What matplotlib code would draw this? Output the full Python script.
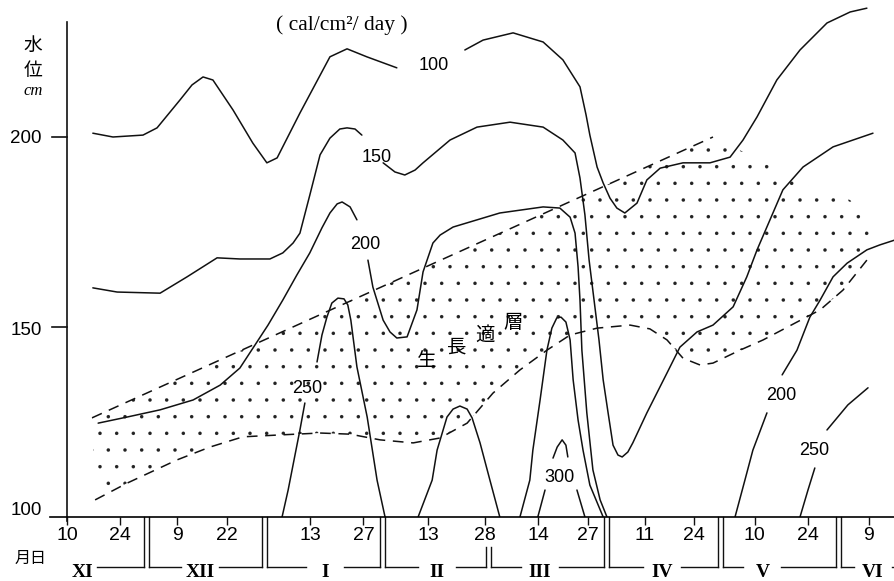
import matplotlib.pyplot as plt
from matplotlib.patches import Polygon

plt.rcParams['font.family'] = ['Liberation Sans', 'Noto Sans CJK JP']
plt.rcParams['hatch.linewidth'] = 0.1

# x = days after 10 Nov, y = water level (cm)
# contour 100 cal/cm2/day
c100a_x = [6.8, 12.1, 20.0, 23.7, 29.7, 32.9, 35.8, 38.4, 43.7, 48.9, 52.6, 55.3, 61.3, 69.2, 73.7, 78.9, 86.8]
c100a_y = [201.0, 200.0, 200.5, 202.4, 209.7, 213.7, 215.8, 215.0, 207.1, 198.4, 193.2, 194.5, 206.3, 221.1, 223.2, 221.1, 218.2]
c100b_x = [104.7, 109.5, 117.4, 125.3, 130.5, 135.0, 136.6, 137.6, 139.5, 141.1, 142.9, 144.7, 146.8, 150.0, 152.6,
           156.1, 162.1, 169.2, 174.5, 177.9, 181.6, 186.8, 192.9, 200.0, 206.1, 210.5]
c100b_y = [222.9, 225.5, 227.4, 225.0, 220.3, 213.2, 205.8, 200.5, 192.1, 187.9, 183.9, 181.3, 180.0, 182.6, 188.7,
           191.8, 193.2, 193.2, 194.7, 199.2, 205.3, 215.0, 222.9, 230.0, 232.9, 233.9]

# contour 150
c150a_x = [6.8, 13.2, 24.5, 31.6, 39.5, 45.5, 53.4, 56.8, 59.5, 61.3, 63.9, 66.6, 69.2, 71.8, 73.7, 75.8, 77.6]
c150a_y = [160.3, 159.2, 158.9, 163.2, 168.2, 167.9, 167.9, 169.5, 172.1, 174.7, 184.7, 195.3, 199.7, 202.1, 202.4, 202.1, 200.5]
c150b_x = [83.2, 86.3, 88.9, 91.6, 93.7, 100.8, 107.9, 116.6, 125.3, 130.5, 133.7, 135.0, 136.3, 137.4, 138.7, 140.0,
           141.1, 142.4, 143.7, 145.0, 146.1, 147.6, 148.9, 152.6, 157.9, 161.3, 165.8, 170.0, 175.3, 178.9, 181.6,
           188.4, 193.7, 201.6, 212.1]
c150b_y = [193.2, 190.8, 190.0, 191.3, 193.2, 199.2, 202.6, 203.9, 202.6, 199.2, 195.8, 189.2, 179.5, 167.6, 157.1, 146.6,
           136.1, 127.4, 118.9, 116.3, 115.8, 117.1, 119.5, 127.4, 137.9, 144.7, 148.7, 150.5, 155.3, 163.2, 170.3,
           186.1, 192.1, 197.4, 201.0]

# contour 200
c200a_x = [8.2, 15.8, 24.5, 33.2, 40.3, 45.5, 49.5, 52.9, 56.8, 60.5, 63.9, 67.1, 69.2, 71.1, 72.4, 74.5, 76.3]
c200a_y = [124.7, 126.3, 128.2, 130.8, 134.7, 139.2, 145.3, 150.5, 157.1, 163.7, 169.5, 176.1, 180.0, 182.4, 182.9, 181.6, 178.2]
c200b_x = [79.2, 80.5, 83.2, 85.0, 86.8, 89.5, 92.1, 93.7, 96.3, 98.2, 101.6, 113.9, 125.3, 129.7, 132.4, 133.7, 134.5,
           135.0, 135.5, 136.8, 138.4, 140.3, 142.1]
c200b_y = [167.6, 160.5, 151.8, 148.7, 147.1, 147.4, 154.5, 164.5, 172.1, 174.2, 176.3, 180.0, 181.6, 181.3, 178.9, 174.7,
           165.8, 157.1, 143.9, 127.4, 112.4, 104.5, 100.0]
c200c_x = [175.8, 178.4, 180.5, 184.2]
c200c_y = [100.0, 109.7, 117.6, 127.4]
c200d_x = [188.2, 192.1, 195.5, 198.2, 201.6, 205.3, 210.5, 213.9, 217.9]
c200d_y = [137.4, 143.9, 152.6, 157.1, 163.2, 166.8, 170.3, 171.6, 172.9]

# contour 250
c250a_x = [56.6, 58.2, 60.0, 61.3, 62.6]
c250a_y = [100.0, 107.1, 116.3, 122.9, 130.0]
c250b_x = [65.8, 67.1, 68.4, 69.7, 71.3, 72.9, 73.9, 74.7, 76.3, 79.0, 81.6, 83.7]
c250b_y = [140.8, 147.9, 152.6, 156.3, 157.6, 157.4, 155.8, 151.8, 139.5, 126.3, 109.7, 100.0]
c250c_x = [92.4, 96.1, 97.4, 100.0, 101.6, 103.4, 105.3, 106.6, 108.7, 111.3, 113.9]
c250c_y = [100.0, 109.7, 117.6, 126.3, 128.4, 129.2, 128.4, 126.1, 119.5, 109.7, 100.0]
c250d_x = [119.2, 121.8, 122.6, 124.5, 126.3, 127.6, 128.9, 130.0, 131.3, 132.4, 133.2, 134.5, 135.8, 137.6, 141.1]
c250d_y = [100.0, 109.7, 117.6, 130.8, 143.9, 149.7, 152.4, 152.6, 151.3, 146.6, 136.1, 125.5, 117.6, 108.4, 100.0]
c250e_x = [192.9, 195.0, 196.8]
c250e_y = [100.0, 107.1, 112.9]
c250f_x = [200.0, 205.5, 210.8]
c250f_y = [122.9, 129.5, 134.0]

# contour 300
c300a_x = [127.9, 129.0, 130.3, 131.3, 131.8]
c300a_y = [115.5, 118.4, 120.3, 118.9, 115.8]
c300b_x = [123.9, 125.8]
c300b_y = [100.0, 107.1]
c300c_x = [134.2, 136.3]
c300c_y = [107.1, 100.0]

# growth layer limits
upper_x = [6.6, 170.0]
upper_y = [126.1, 200.0]
lower_x = [7.4, 15.8, 28.9, 37.6, 46.3, 56.1, 66.6, 74.5, 82.4, 91.1, 98.2, 105.3, 112.1, 119.2, 126.3, 132.4,
           139.5, 148.2, 153.4, 157.9, 162.1, 166.6, 170.0, 177.1, 183.2, 192.1, 198.2, 204.2, 210.5]
lower_y = [104.5, 108.9, 115.0, 118.4, 121.1, 121.6, 122.1, 121.8, 120.3, 119.5, 120.8, 124.7, 132.6, 138.7, 143.9, 147.9,
           149.7, 150.5, 149.5, 146.6, 141.8, 140.0, 140.5, 143.9, 146.6, 151.3, 154.5, 159.7, 167.6]
edge_x = [182.4, 192.9, 206.1, 213.9]
edge_y = [193.9, 187.9, 183.4, 174.2]

contour_labels = ['100', '150', '200', '250', '300', '200', '250']
label_x = [96.6, 81.6, 78.4, 63.2, 129.7, 187.9, 196.6]
label_y = [218.9, 194.7, 171.6, 133.9, 110.3, 132.1, 117.6]

tick_days = [0, 14, 29, 42, 64, 78, 95, 110, 124, 137, 152, 165, 181, 195, 211]
tick_labels = ['10', '24', '9', '22', '13', '27', '13', '28', '14', '27', '11', '24', '10', '24', '9']
month_starts = [21, 52, 83, 111, 142, 172, 203]
month_names = ['XI', 'XII', 'I', 'II', 'III', 'IV', 'V', 'VI']
month_pos = [4.2, 35.0, 67.9, 97.4, 124.5, 156.6, 183.0, 212.1]


fig = plt.figure(figsize=(8.95, 5.81), dpi=100)
ax = fig.add_axes([50/895, 64/581, 845/895, 517/581])
ax.set_xlim(-4.47, 217.9)
ax.set_ylim(100, 236.05)
for s in ['left', 'top', 'right']:
    ax.spines[s].set_visible(False)
ax.spines['bottom'].set_linewidth(1.2)

# stippled growth layer
poly_x = upper_x + edge_x + lower_x[::-1]
poly_y = upper_y + edge_y + lower_y[::-1]
ax.add_patch(Polygon(list(zip(poly_x, poly_y)), closed=True, facecolor='none',
                     edgecolor='#222222', linewidth=0, hatch='.'))

lines = [(c100a_x, c100a_y), (c100b_x, c100b_y), (c150a_x, c150a_y), (c150b_x, c150b_y),
         (c200a_x, c200a_y), (c200b_x, c200b_y), (c200c_x, c200c_y), (c200d_x, c200d_y),
         (c250a_x, c250a_y), (c250b_x, c250b_y), (c250c_x, c250c_y), (c250d_x, c250d_y),
         (c250e_x, c250e_y), (c250f_x, c250f_y),
         (c300a_x, c300a_y), (c300b_x, c300b_y), (c300c_x, c300c_y)]
for lx, ly in lines:
    ax.plot(lx, ly, color='#111111', lw=1.1, solid_joinstyle='round', solid_capstyle='round')

ax.plot(upper_x, upper_y, color='#111111', lw=1.1, ls=(0, (7, 5)))
ax.plot(lower_x, lower_y, color='#111111', lw=1.1, ls=(0, (7, 5)))

for t, lx, ly in zip(contour_labels, label_x, label_y):
    ax.text(lx, ly, t, fontsize=13, ha='center', va='center')

ax.text(94.7, 141.3, '生', fontsize=14, ha='center', va='center', family='Noto Sans CJK JP')
ax.text(102.6, 144.7, '長', fontsize=14, ha='center', va='center', family='Noto Sans CJK JP')
ax.text(110.0, 147.9, '適', fontsize=14, ha='center', va='center', family='Noto Sans CJK JP')
ax.text(117.4, 151.3, '層', fontsize=14, ha='center', va='center', family='Noto Sans CJK JP')

ax.text(72.4, 229.5, '( cal/cm²/ day )', fontsize=15.5, ha='center', va='center', family='Liberation Serif')

# y axis drawn by hand
ax.plot([0, 0], [99, 230.3], color='#111111', lw=1.2, clip_on=False)
for v in [200, 150]:
    ax.plot([-3.95, 0], [v, v], color='#111111', lw=1.2, clip_on=False)
ax.set_yticks([])
for t, v in zip(['200', '150', '100'], [199.7, 149.0, 101.8]):
    ax.text(-6.6, v, t, fontsize=13.5, ha='right', va='center')
ax.text(-8.9, 224.2, '水', fontsize=13.5, ha='center', va='center', family='Noto Sans CJK JP')
ax.text(-8.9, 217.6, '位', fontsize=13.5, ha='center', va='center', family='Noto Sans CJK JP')
ax.text(-9.0, 212.1, 'cm', fontsize=12, ha='center', va='center', style='italic', family='Liberation Serif')

ax.set_xticks(tick_days)
ax.set_xticklabels(tick_labels, fontsize=14)
ax.tick_params(axis='x', length=6, width=1, pad=1.5, color='#111111')

# month boxes under the axis
ax.text(-9.7, 89.2, '月日', fontsize=11.5, ha='center', va='center', family='Noto Sans CJK JP')
box_y = 86.8
for i, b in enumerate(month_starts):
    top = 92.2 if b == 111 else 100
    for off in [-0.65, 0.65]:
        ax.plot([b + off, b + off], [top, box_y], color='#111111', lw=1.0, clip_on=False)
ends = [m - 0.65 for m in month_starts] + [217.9]
starts = [7.9] + [m + 0.65 for m in month_starts]
for i, (name, c) in enumerate(zip(month_names, month_pos)):
    ax.text(c, 85.4, name, fontsize=14, ha='center', va='center', family='Liberation Serif', weight='bold')
    if i == 0:
        ax.plot([starts[i], ends[i]], [box_y, box_y], color='#111111', lw=1.0, clip_on=False)
    else:
        ax.plot([starts[i], c - 5], [box_y, box_y], color='#111111', lw=1.0, clip_on=False)
        if c + 5 < ends[i]:
            ax.plot([c + 5, ends[i]], [box_y, box_y], color='#111111', lw=1.0, clip_on=False)

fig.savefig('out.png', dpi=100)
